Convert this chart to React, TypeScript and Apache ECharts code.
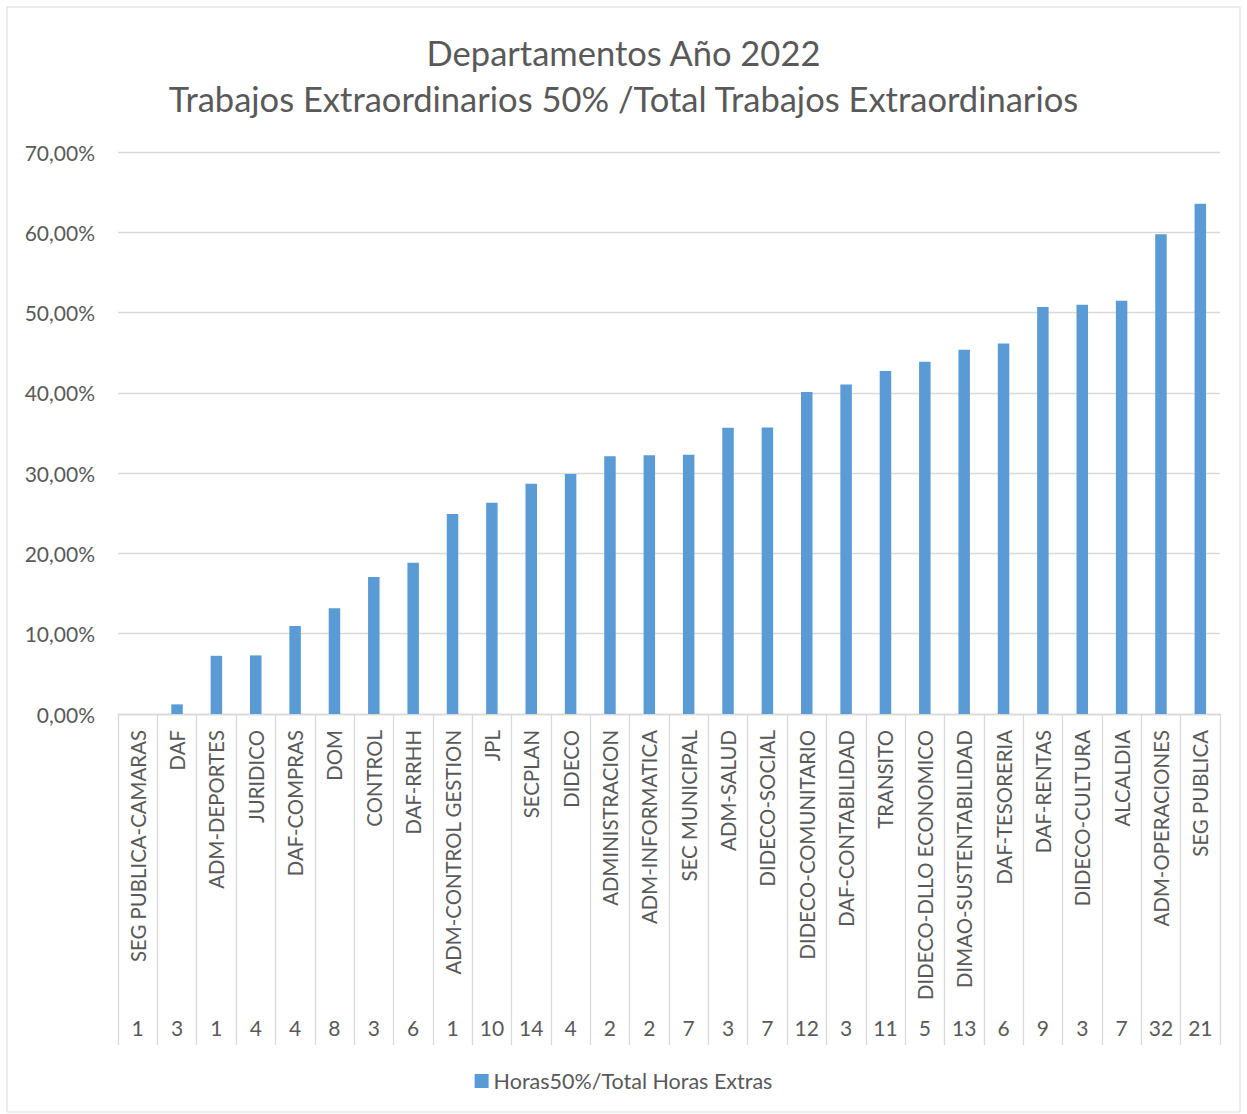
import React, { useEffect, useRef } from "react";
import * as echarts from "echarts";

const departments = [
  "SEG PUBLICA-CAMARAS", "DAF", "ADM-DEPORTES", "JURIDICO", "DAF-COMPRAS", "DOM", "CONTROL",
  "DAF-RRHH", "ADM-CONTROL GESTION", "JPL", "SECPLAN", "DIDECO", "ADMINISTRACION",
  "ADM-INFORMATICA", "SEC MUNICIPAL", "ADM-SALUD", "DIDECO-SOCIAL", "DIDECO-COMUNITARIO",
  "DAF-CONTABILIDAD", "TRANSITO", "DIDECO-DLLO ECONOMICO", "DIMAO-SUSTENTABILIDAD",
  "DAF-TESORERIA", "DAF-RENTAS", "DIDECO-CULTURA", "ALCALDIA", "ADM-OPERACIONES", "SEG PUBLICA",
];

const counts = [
  "1", "3", "1", "4", "4", "8", "3", "6", "1", "10", "14", "4", "2", "2", "7", "3", "7",
  "12", "3", "11", "5", "13", "6", "9", "3", "7", "32", "21",
];

const ratioPercent = [
  0, 1.2, 7.25, 7.3, 10.97, 13.16, 17.07, 18.84, 24.9, 26.3, 28.67, 29.88, 32.1, 32.24,
  32.28, 35.64, 35.68, 40.12, 41.05, 42.71, 43.89, 45.37, 46.16, 50.7, 50.96, 51.48,
  59.74, 63.54,
];

const seriesName = "Horas50%/Total Horas Extras";
const titleLines = ["Departamentos Año 2022", "Trabajos Extraordinarios 50% /Total Trabajos Extraordinarios"];

const FONT = "Lato, 'Open Sans', sans-serif";
const TEXT = "#595959";
const GRID = "#d9d9d9";

export default function App() {
  const ref = useRef<HTMLDivElement>(null);
  useEffect(() => {
    if (!ref.current) return;
    const chart = echarts.init(ref.current, undefined, { renderer: "svg" });
    chart.setOption({
      animation: false,
      backgroundColor: "#ffffff",
      textStyle: { fontFamily: FONT },
      title: {
        text: titleLines.join("\n"),
        left: "center",
        top: 24,
        textStyle: { fontFamily: FONT, fontSize: 34.5, fontWeight: "normal", color: TEXT, lineHeight: 46 },
      },
      graphic: [
        {
          type: "rect",
          shape: { x: 7, y: 7, width: 1233, height: 1105 },
          style: { fill: "none", stroke: GRID, lineWidth: 1 },
          silent: true,
        },
      ],
      legend: {
        bottom: 17,
        left: "center",
        icon: "rect",
        itemWidth: 14,
        itemHeight: 14,
        itemGap: 6,
        textStyle: { fontFamily: FONT, fontSize: 21.5, color: TEXT },
        data: [seriesName],
      },
      grid: { left: 118, right: 27, top: 152, height: 562 },
      xAxis: [
        {
          type: "category",
          data: departments,
          position: "bottom",
          axisLine: { show: true, lineStyle: { color: GRID, width: 1.3 } },
          axisTick: { show: true, interval: 0, length: 331, lineStyle: { color: GRID, width: 1.3 } },
          axisLabel: {
            interval: 0,
            rotate: 90,
            margin: 16,
            fontFamily: FONT,
            fontSize: 20.4,
            color: TEXT,
          },
        },
        {
          type: "category",
          data: counts,
          position: "bottom",
          offset: 300,
          axisLine: { show: false },
          axisTick: { show: false },
          axisLabel: { interval: 0, margin: 3, fontFamily: FONT, fontSize: 21, color: TEXT },
        },
      ],
      yAxis: {
        type: "value",
        min: 0,
        max: 70,
        interval: 10,
        axisLine: { show: false },
        axisTick: { show: false },
        splitLine: { lineStyle: { color: GRID, width: 1.3 } },
        axisLabel: {
          margin: 23,
          fontFamily: FONT,
          fontSize: 21,
          color: TEXT,
          formatter: (v: number) => v.toFixed(2).replace(".", ",") + "%",
        },
      },
      series: [
        {
          name: seriesName,
          type: "bar",
          xAxisIndex: 0,
          data: ratioPercent,
          barWidth: 11.5,
          itemStyle: { color: "#5B9BD5" },
        },
      ],
    });
    return () => chart.dispose();
  }, []);
  return (
    <div
      ref={ref}
      style={{ position: "absolute", left: 0, top: 0, width: 1247, height: 1114 }}
    />
  );
}
